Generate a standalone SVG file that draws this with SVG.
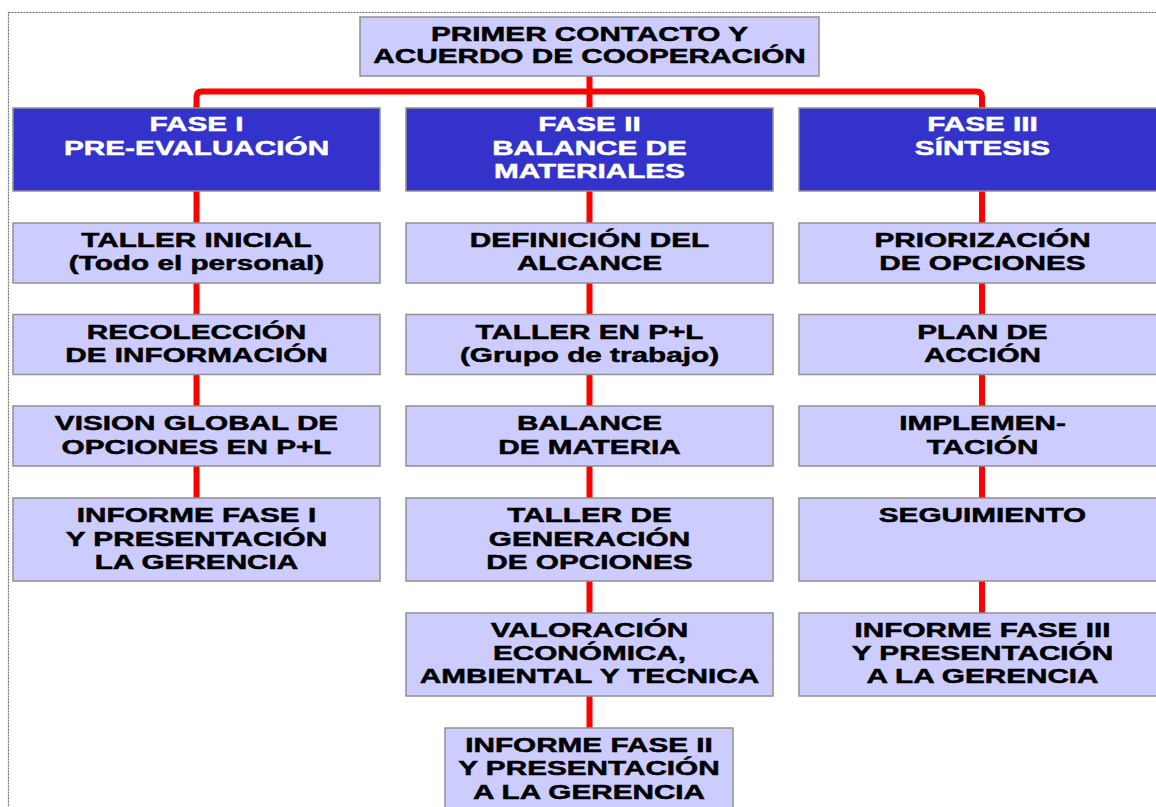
<svg xmlns="http://www.w3.org/2000/svg" width="1156" height="807" viewBox="0 0 1156 807">
<style>
.frame{fill:none;stroke:#6e6e6e;stroke-width:1.2;stroke-dasharray:2 1}
.con{fill:none;stroke:#ff0000;stroke-width:6}
.box{fill:#ccccff;stroke:#909090;stroke-width:1.5}
.phase{fill:#3333cc;stroke:#909090;stroke-width:1.5}
text{font-family:"Liberation Sans",Arial,sans-serif;font-weight:bold;font-size:20.5px;text-anchor:middle;stroke-width:0.5}
.dk{fill:#000;stroke:#000}
.wt{fill:#fff;stroke:#fff}
</style>
<rect class="frame" x="8.5" y="12.5" width="1160" height="810"/>
<g id="connectors">
<path class="con" d="M589.5,76 V108"/>
<path class="con" d="M196.5,108 V97 Q196.5,91.5 202,91.5 H976.5 Q982,91.5 982,97 V108"/>
<path class="con" d="M196.5,191 V498"/>
<path class="con" d="M589.5,191 V728"/>
<path class="con" d="M982,191 V613"/>
</g>
<g id="n_top">
<rect class="box" x="360" y="17" width="459" height="59"/>
<text class="dk" transform="translate(589.5 0) scale(1.45 1)"><tspan x="0" y="41.5">PRIMER CONTACTO Y</tspan><tspan x="0" y="63.5">ACUERDO DE COOPERACIÓN</tspan></text>
</g>
<g id="n_fase1">
<rect class="phase" x="13" y="108" width="367" height="83"/>
<text class="wt" transform="translate(196.5 0) scale(1.45 1)"><tspan x="0" y="131.5">FASE I</tspan><tspan x="0" y="155.5">PRE-EVALUACIÓN</tspan></text>
</g>
<g id="n_fase2">
<rect class="phase" x="406" y="108" width="367" height="83"/>
<text class="wt" transform="translate(589.5 0) scale(1.45 1)"><tspan x="0" y="131.5">FASE II</tspan><tspan x="0" y="155.5">BALANCE DE</tspan><tspan x="0" y="178.5">MATERIALES</tspan></text>
</g>
<g id="n_fase3">
<rect class="phase" x="799" y="108" width="367" height="83"/>
<text class="wt" transform="translate(982.5 0) scale(1.45 1)"><tspan x="0" y="131.5">FASE III</tspan><tspan x="0" y="155.5">SÍNTESIS</tspan></text>
</g>
<g id="n_taller_inicial">
<rect class="box" x="13" y="223" width="367" height="60"/>
<text class="dk" transform="translate(196.5 0) scale(1.45 1)"><tspan x="0" y="247.5">TALLER INICIAL</tspan><tspan x="0" y="270.5">(Todo el personal)</tspan></text>
</g>
<g id="n_recoleccion">
<rect class="box" x="13" y="314.5" width="367" height="60"/>
<text class="dk" transform="translate(196.5 0) scale(1.45 1)"><tspan x="0" y="339">RECOLECCIÓN</tspan><tspan x="0" y="362">DE INFORMACIÓN</tspan></text>
</g>
<g id="n_vision">
<rect class="box" x="13" y="406" width="367" height="60"/>
<text class="dk" transform="translate(196.5 0) scale(1.45 1)"><tspan x="0" y="430.5">VISION GLOBAL DE</tspan><tspan x="0" y="454">OPCIONES EN P+L</tspan></text>
</g>
<g id="n_informe1">
<rect class="box" x="13" y="498" width="367" height="83"/>
<text class="dk" transform="translate(196.5 0) scale(1.45 1)"><tspan x="0" y="522.5">INFORME FASE I</tspan><tspan x="0" y="546">Y PRESENTACIÓN</tspan><tspan x="0" y="569">LA GERENCIA</tspan></text>
</g>
<g id="n_definicion">
<rect class="box" x="406" y="223" width="367" height="60"/>
<text class="dk" transform="translate(589.5 0) scale(1.45 1)"><tspan x="0" y="247.5">DEFINICIÓN DEL</tspan><tspan x="0" y="270.5">ALCANCE</tspan></text>
</g>
<g id="n_taller_pl">
<rect class="box" x="406" y="314.5" width="367" height="60"/>
<text class="dk" transform="translate(589.5 0) scale(1.45 1)"><tspan x="0" y="339">TALLER EN P+L</tspan><tspan x="0" y="362">(Grupo de trabajo)</tspan></text>
</g>
<g id="n_balance">
<rect class="box" x="406" y="406" width="367" height="60"/>
<text class="dk" transform="translate(589.5 0) scale(1.45 1)"><tspan x="0" y="430.5">BALANCE</tspan><tspan x="0" y="454">DE MATERIA</tspan></text>
</g>
<g id="n_taller_gen">
<rect class="box" x="406" y="498" width="367" height="83"/>
<text class="dk" transform="translate(589.5 0) scale(1.45 1)"><tspan x="0" y="522.5">TALLER DE</tspan><tspan x="0" y="546">GENERACIÓN</tspan><tspan x="0" y="569">DE OPCIONES</tspan></text>
</g>
<g id="n_valoracion">
<rect class="box" x="406" y="613" width="367" height="83"/>
<text class="dk" transform="translate(589.5 0) scale(1.45 1)"><tspan x="0" y="637">VALORACIÓN</tspan><tspan x="0" y="660">ECONÓMICA,</tspan><tspan x="0" y="683.5">AMBIENTAL Y TECNICA</tspan></text>
</g>
<g id="n_informe2">
<rect class="box" x="445" y="728" width="288" height="90"/>
<text class="dk" transform="translate(589 0) scale(1.45 1)"><tspan x="0" y="752.5">INFORME FASE II</tspan><tspan x="0" y="775.5">Y PRESENTACIÓN</tspan><tspan x="0" y="799">A LA GERENCIA</tspan></text>
</g>
<g id="n_priorizacion">
<rect class="box" x="799" y="223" width="367" height="60"/>
<text class="dk" transform="translate(982.5 0) scale(1.45 1)"><tspan x="0" y="247.5">PRIORIZACIÓN</tspan><tspan x="0" y="270.5">DE OPCIONES</tspan></text>
</g>
<g id="n_plan">
<rect class="box" x="799" y="314.5" width="367" height="60"/>
<text class="dk" transform="translate(982.5 0) scale(1.45 1)"><tspan x="0" y="339">PLAN DE</tspan><tspan x="0" y="362">ACCIÓN</tspan></text>
</g>
<g id="n_implementacion">
<rect class="box" x="799" y="406" width="367" height="60"/>
<text class="dk" transform="translate(982.5 0) scale(1.45 1)"><tspan x="0" y="430.5">IMPLEMEN-</tspan><tspan x="0" y="454">TACIÓN</tspan></text>
</g>
<g id="n_seguimiento">
<rect class="box" x="799" y="498" width="367" height="83"/>
<text class="dk" transform="translate(982.5 0) scale(1.45 1)"><tspan x="0" y="522.5">SEGUIMIENTO</tspan></text>
</g>
<g id="n_informe3">
<rect class="box" x="799" y="613" width="367" height="83"/>
<text class="dk" transform="translate(982.5 0) scale(1.45 1)"><tspan x="0" y="637">INFORME FASE III</tspan><tspan x="0" y="660">Y PRESENTACIÓN</tspan><tspan x="0" y="683.5">A LA GERENCIA</tspan></text>
</g>
</svg>
